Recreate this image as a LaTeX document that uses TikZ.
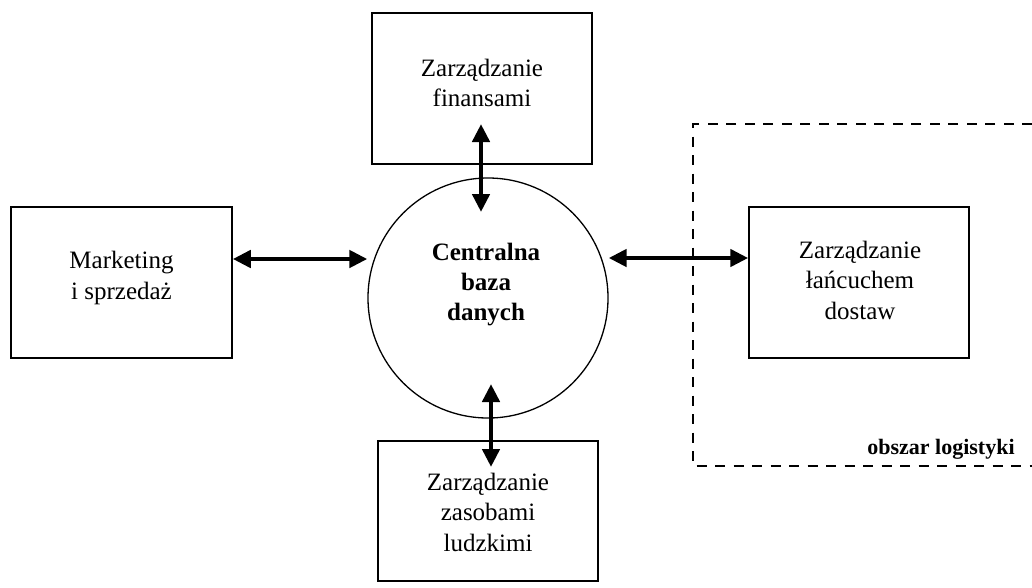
\documentclass[tikz,border=0pt]{standalone}
\usepackage{fontspec}
\setmainfont{Liberation Serif}
\usetikzlibrary{arrows.meta}
\begin{document}
\begin{tikzpicture}[x=1pt,y=-1pt,
  box/.style={draw, line width=1.5pt, inner sep=0pt},
  txt/.style={align=center, font=\fontsize{25}{30.5}\selectfont},
  dbtxt/.style={align=center, font=\fontsize{25}{30}\selectfont\bfseries},
  link/.style={line width=4.5pt, {Triangle[length=18pt,width=17pt]}-{Triangle[length=18pt,width=17pt]}},
  area/.style={line width=1.8pt, dash pattern=on 10pt off 8.5pt}]
\useasboundingbox (0,0) rectangle (1032,587);

% the dashed logistics area, open to the right
\draw[area] (1032,124) -- (693,124) -- (693,466) -- (1032,466);
\node[font=\fontsize{22}{25}\selectfont\bfseries] (lab) at (941,449) {obszar logistyki};

% central database
\node[draw, circle, line width=1.3pt, minimum size=240pt, inner sep=0pt] (db) at (488,298) {};
\node[dbtxt] (dbt) at (486,285) {Centralna\\baza\\danych};

% surrounding modules
\node[box, minimum width=220pt, minimum height=151pt] (fin) at (482,88.5) {};
\node[txt] (fint) at (482,83) {Zarządzanie\\finansami};

\node[box, minimum width=221pt, minimum height=151pt] (mk) at (121.5,282.5) {};
\node[txt] (mkt) at (121.5,278) {Marketing\\i sprzedaż};

\node[box, minimum width=220pt, minimum height=151pt] (sc) at (859,282.5) {};
\node[txt] (sct) at (860,280) {Zarządzanie\\łańcuchem\\dostaw};

\node[box, minimum width=220pt, minimum height=140pt] (hr) at (488,511) {};
\node[txt] (hrt) at (488,512) {Zarządzanie\\zasobami\\ludzkimi};

% two-way links
\coordinate (ft) at (481,124);
\coordinate (fb) at (481,212);
\coordinate (ht) at (491,384);
\coordinate (hb) at (491,467);
\draw[link] (ft) -- (fb);
\draw[link] (ht) -- (hb);
\draw[link] (mk.east |- 0,259) -- (db.west |- 0,259);
\draw[link] (db.east |- 0,258) -- (sc.west |- 0,258);
\end{tikzpicture}
\end{document}
